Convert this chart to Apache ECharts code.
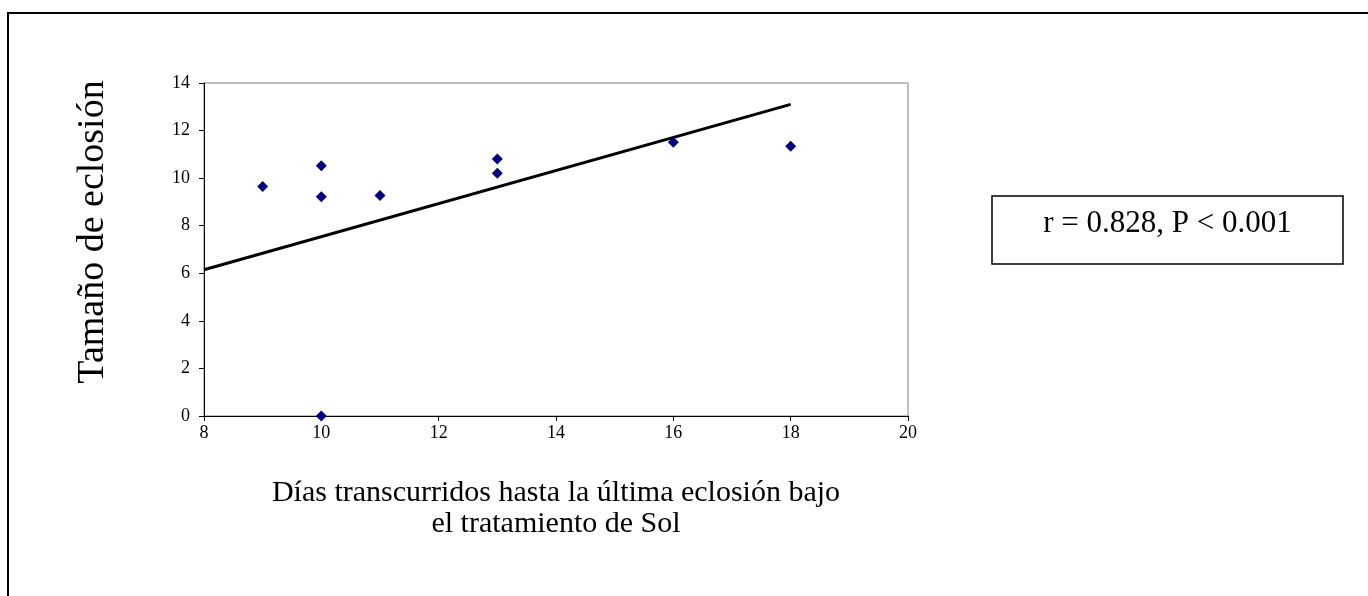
<!DOCTYPE html>
<html>
<head>
<meta charset="utf-8">
<script src="https://cdn.jsdelivr.net/npm/echarts@6/dist/echarts.min.js"></script>
<style>
  html, body { margin: 0; padding: 0; background: #fff; }
  #chart { width: 1368px; height: 596px; }
</style>
</head>
<body>
<div id="chart"></div>
<script>
// Days until last hatching (Sol treatment) vs. hatch size
const diasX = [9, 10, 10, 10, 11, 13, 13, 16, 18];
const tamanoY = [9.65, 10.52, 9.22, 0, 9.27, 10.81, 10.21, 11.51, 11.34];

// Fitted trend line endpoints
const tendenciaX = [8, 18];
const tendenciaY = [6.15, 13.1];

const xTicks = [8, 10, 12, 14, 16, 18, 20];
const yTicks = [0, 2, 4, 6, 8, 10, 12, 14];

const yTitulo = 'Tamaño de eclosión';
const xTitulo = 'Días transcurridos hasta la última eclosión bajo\nel tratamiento de Sol';
const estadistica = 'r = 0.828, P < 0.001';

const serif = '"Liberation Serif", "Times New Roman", serif';

const chart = echarts.init(document.getElementById('chart'), null, { renderer: 'canvas' });

chart.setOption({
  animation: false,
  backgroundColor: '#ffffff',
  grid: {
    left: 204, top: 83, width: 704, height: 333,
    show: true, borderColor: '#808080', borderWidth: 1, backgroundColor: 'transparent'
  },
  xAxis: {
    type: 'value',
    min: xTicks[0], max: xTicks[xTicks.length - 1], interval: 2,
    axisLine: { show: true, onZero: false, lineStyle: { color: '#000', width: 1 } },
    axisTick: { show: true, inside: false, length: 5, lineStyle: { color: '#000' } },
    splitLine: { show: false },
    axisLabel: { color: '#000', fontFamily: serif, fontSize: 18, margin: 8 }
  },
  yAxis: {
    type: 'value',
    min: yTicks[0], max: yTicks[yTicks.length - 1], interval: 2,
    axisLine: { show: true, onZero: false, lineStyle: { color: '#000', width: 1 } },
    axisTick: { show: true, inside: false, length: 5, lineStyle: { color: '#000' } },
    splitLine: { show: false },
    axisLabel: { color: '#000', fontFamily: serif, fontSize: 18, margin: 14 }
  },
  series: [
    {
      type: 'line',
      data: tendenciaX.map((x, i) => [x, tendenciaY[i]]),
      symbol: 'none',
      lineStyle: { color: '#000', width: 3 },
      z: 2
    },
    {
      type: 'scatter',
      data: diasX.map((x, i) => [x, tamanoY[i]]),
      symbol: 'diamond',
      symbolSize: 11,
      itemStyle: { color: '#000080', opacity: 1 },
      z: 3
    }
  ],
  graphic: [
    {
      type: 'rect',
      shape: { x: 8, y: 13, width: 1400, height: 700 },
      style: { fill: 'none', stroke: '#000', lineWidth: 2 },
      silent: true
    },
    {
      type: 'text',
      x: 93, y: 232,
      rotation: Math.PI / 2,
      style: {
        text: yTitulo, fill: '#000', font: '38px ' + serif,
        textAlign: 'center', textVerticalAlign: 'middle'
      }
    },
    {
      type: 'text',
      x: 556, y: 509,
      style: {
        text: xTitulo, fill: '#000', font: '30px ' + serif,
        textAlign: 'center', textVerticalAlign: 'middle', lineHeight: 31
      }
    },
    {
      type: 'rect',
      shape: { x: 992, y: 196, width: 351, height: 68 },
      style: { fill: '#fff', stroke: '#000', lineWidth: 1.5 }
    },
    {
      type: 'text',
      x: 1167.5, y: 224,
      style: {
        text: estadistica, fill: '#000', font: '31px ' + serif,
        textAlign: 'center', textVerticalAlign: 'middle'
      }
    }
  ]
});
</script>
</body>
</html>
